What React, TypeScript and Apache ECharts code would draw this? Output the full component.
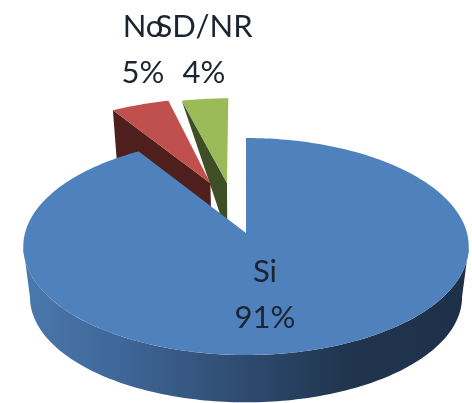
import React, { useEffect, useRef } from "react";
import * as echarts from "echarts";

const categories = ["Si", "No", "SD/NR"];
const percentValues = [91, 5, 4];

const topColors = ["#4f81bd", "#c0504d", "#9bbb59"];
const wallColors = ["#2f4d72", "#4f1f1e", "#3f4f25"];

// Layout of the tilted disc: a pin-hole projection of a unit circle.
const APEX_X = 246;
const APEX_Y = 233;
const WIDTH_FACTOR = 221;
const HEIGHT_FACTOR = 106.8;
const PERSPECTIVE = 0.1244;
const DEPTH_Y = 51;
const LOWER_SCALE = 0.97;

const explode = [0, 0.54, 0.5];
const shiftX = [0, 9, -6];
const labelCentres = [
  { x: 265, y1: 270, y2: 316 },
  { x: 143, y1: 25, y2: 71 },
  { x: 204, y1: 25, y2: 71 },
];

const TAU = Math.PI * 2;

function project(u: number, v: number, lower: boolean, dx: number): number[] {
  const s = 1 / (1 + PERSPECTIVE * v);
  const k = lower ? LOWER_SCALE : 1;
  return [
    APEX_X + dx + WIDTH_FACTOR * k * u * s,
    APEX_Y + (lower ? DEPTH_Y : 0) - HEIGHT_FACTOR * k * v * s,
  ];
}

function rim(from: number, to: number, off: number[], lower: boolean, dx: number): number[][] {
  const n = Math.max(2, Math.ceil(Math.abs(to - from) / 0.02));
  const pts: number[][] = [];
  for (let i = 0; i <= n; i++) {
    const a = from + ((to - from) * i) / n;
    pts.push(project(Math.sin(a) + off[0], Math.cos(a) + off[1], lower, dx));
  }
  return pts;
}

function sliceAngles(index: number): number[] {
  const total = percentValues.reduce((a, b) => a + b, 0);
  const before = percentValues.slice(0, index).reduce((a, b) => a + b, 0);
  return [(before / total) * TAU, ((before + percentValues[index]) / total) * TAU];
}

function textEl(text: string, x: number, y: number) {
  return {
    type: "text",
    x,
    y,
    style: {
      text,
      fill: "#1c2430",
      font: '31px Lato, "Open Sans", sans-serif',
      align: "center",
      verticalAlign: "middle",
    },
  };
}

function renderSlice(params: any) {
  const i = percentValues.length - 1 - params.dataIndex; // far slices are painted first
  const [a0, a1] = sliceAngles(i);
  const mid = (a0 + a1) / 2;
  const off = [Math.sin(mid) * explode[i], Math.cos(mid) * explode[i]];
  const dx = shiftX[i];
  const children: any[] = [];

  const topApex = project(off[0], off[1], false, dx);
  const lowApex = project(off[0], off[1], true, dx);
  const topRim = rim(a0, a1, off, false, dx);

  if (i === 0) {
    // The front wall runs between the two points where the disc is widest.
    const front0 = Math.acos(-PERSPECTIVE);
    const front1 = TAU - front0;
    const upper = rim(front0, front1, off, false, dx);
    const lower = rim(front0, front1, off, true, dx).reverse();
    children.push({
      type: "polygon",
      shape: { points: upper.concat(lower) },
      style: {
        fill: new echarts.graphic.LinearGradient(0, 0, 1, 0, [
          { offset: 0, color: "#4a78ae" },
          { offset: 0.2, color: "#40689a" },
          { offset: 0.48, color: "#2f4d72" },
          { offset: 0.72, color: "#20354f" },
          { offset: 1, color: "#1e3048" },
        ]),
      },
    });
  } else if (i === 1) {
    const outer = topRim[0];
    const outerLow = rim(a0, a0, off, true, dx)[0];
    children.push({
      type: "polygon",
      shape: { points: [outer, topApex, lowApex, outerLow] },
      style: { fill: wallColors[i] },
    });
  } else {
    children.push({
      type: "polygon",
      shape: { points: [topRim[0], topApex, lowApex] },
      style: { fill: wallColors[i] },
    });
  }

  children.push({
    type: "polygon",
    shape: { points: [topApex].concat(topRim) },
    style: { fill: topColors[i] },
  });

  const c = labelCentres[i];
  children.push(textEl(categories[i], c.x, c.y1));
  children.push(textEl(`${percentValues[i]}%`, c.x, c.y2));
  return { type: "group", children };
}

export default function App() {
  const ref = useRef<HTMLDivElement>(null);
  useEffect(() => {
    const chart = echarts.init(ref.current!, undefined, { renderer: "svg" });
    chart.setOption({
      animation: false,
      backgroundColor: "#ffffff",
      series: [
        {
          type: "custom",
          coordinateSystem: "none",
          silent: true,
          clip: false,
          data: percentValues.slice().reverse().map((v) => [v]),
          renderItem: renderSlice,
        },
      ],
    });
    return () => chart.dispose();
  }, []);
  return (
    <div
      ref={ref}
      style={{
        position: "absolute",
        left: 0,
        top: 0,
        width: 472,
        height: 403,
        overflow: "hidden",
        filter: "blur(0.6px)",
      }}
    />
  );
}
